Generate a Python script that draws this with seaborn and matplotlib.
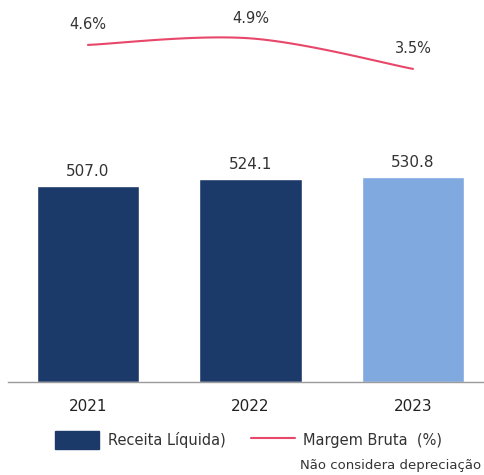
import numpy as np
import pandas as pd
import matplotlib
matplotlib.use("Agg")
import matplotlib.pyplot as plt
import seaborn as sns

# ---- data ----
years = ["2021", "2022", "2023"]
receita = [507.0, 524.1, 530.8]
margem = [4.6, 4.9, 3.5]
bar_colors = ["#1c3a69", "#1c3a69", "#80a9df"]
line_color = "#e8476a"
text_color = "#333333"

sns.set_theme(style="white")
plt.rcParams["font.family"] = ["DejaVu Sans"]

fig = plt.figure(figsize=(4.85, 4.75), dpi=100)
W, H = 485, 475
# axes: left 8px, right 485px, bottom at y=382px, top at y=0
ax = fig.add_axes([8 / W, (H - 382) / H, (485 - 8) / W, 382 / H])

df = pd.DataFrame({"ano": years, "receita": receita})
sns.barplot(data=df, x="ano", y="receita", hue="ano", palette=bar_colors,
            width=0.63, legend=False, ax=ax, saturation=1)
ax.set_xlim(-0.492, 2.443)
ax.set_ylim(0, 988)
for i, v in enumerate(receita):
    ax.text(i, v + 18, f"{v:.1f}", ha="center", va="bottom", fontsize=11,
            color=text_color)

ax.set_xlabel("")
ax.set_ylabel("")
ax.set_yticks([])
ax.tick_params(axis="x", length=0, pad=12, labelsize=11, labelcolor="#222222")
for s in ["top", "right", "left"]:
    ax.spines[s].set_visible(False)
ax.spines["bottom"].set_color("#9a9a9a")
ax.spines["bottom"].set_linewidth(1.0)

# ---- smoothed line on twin axis ----
ax2 = ax.twinx()
ax2.set_ylim(-10.86, 6.66)
ax2.set_xlim(ax.get_xlim())
ax2.axis("off")

# Catmull-Rom rendering of the 3 data points (drawing only)
pts = np.array([[i, m] for i, m in enumerate(margem)], dtype=float)
ext = np.vstack([pts[0], pts, pts[-1]])
xs, ys = [], []
for k in range(1, len(ext) - 2):
    p0, p1, p2, p3 = ext[k - 1], ext[k], ext[k + 1], ext[k + 2]
    for t in np.linspace(0, 1, 40):
        t2, t3 = t * t, t * t * t
        pt = 0.5 * ((2 * p1) + (-p0 + p2) * t + (2 * p0 - 5 * p1 + 4 * p2 - p3) * t2
                    + (-p0 + 3 * p1 - 3 * p2 + p3) * t3)
        xs.append(pt[0]); ys.append(pt[1])
smooth = pd.DataFrame({"x": xs, "y": ys})
sns.lineplot(data=smooth, x="x", y="y", sort=False, color=line_color,
             linewidth=1.5, ax=ax2, legend=False)
ax2.set_xlabel(""); ax2.set_ylabel("")
for i, m in enumerate(margem):
    ax2.annotate(f"{m:.1f}%", (i, m), xytext=(0, 9), textcoords="offset points",
                 ha="center", va="bottom", fontsize=10.5, color=text_color)

# ---- legend ----
from matplotlib.patches import Patch
from matplotlib.lines import Line2D
h1 = Patch(facecolor=bar_colors[0], edgecolor=bar_colors[0])
h2 = Line2D([0], [0], color=line_color, linewidth=1.5)
fig.legend([h1, h2], ["Receita Líquida)", "Margem Bruta  (%)"],
           loc="center left", bbox_to_anchor=(42 / W, 1 - 440 / H), ncol=2,
           frameon=False, fontsize=10.5, handlelength=3.0, handleheight=1.5,
           handletextpad=0.6, columnspacing=1.75, labelcolor=text_color)

fig.text(300 / W, 1 - 465 / H, "Não considera depreciação", fontsize=9.5,
         color=text_color, ha="left", va="center")

fig.savefig("out.png", dpi=100)
